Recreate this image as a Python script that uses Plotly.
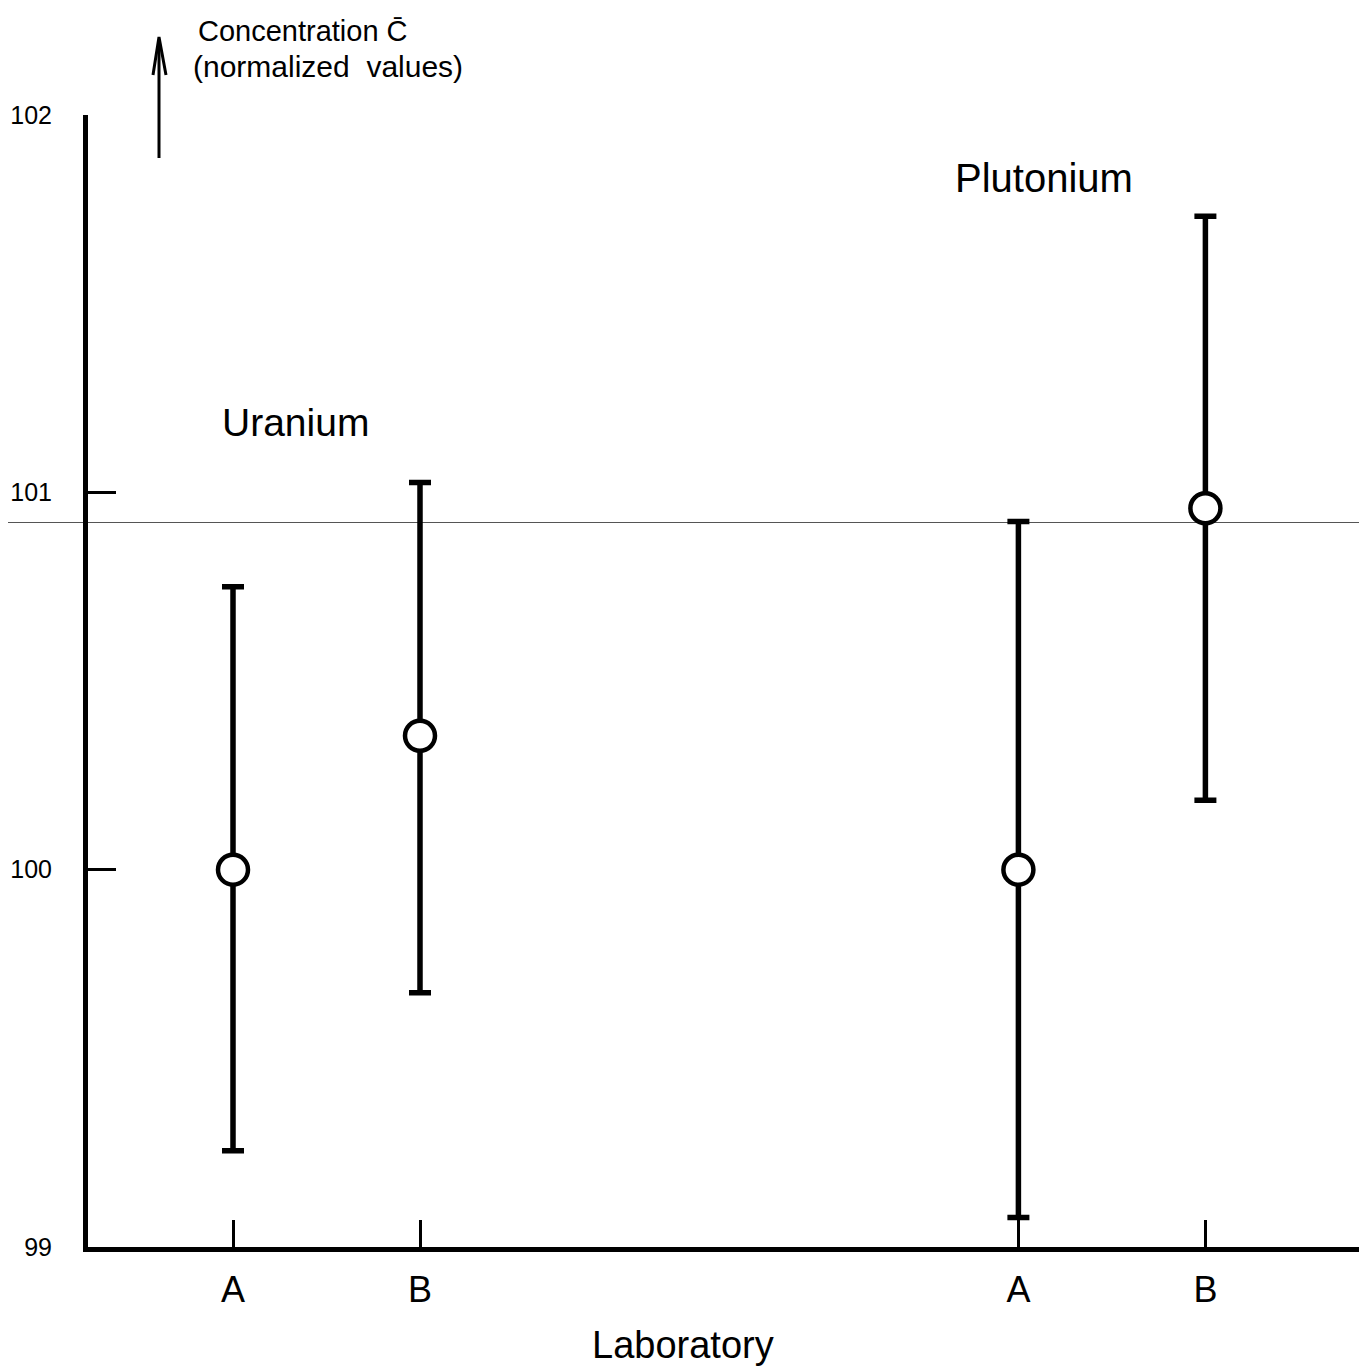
import numpy as np
import plotly.graph_objects as go

# ---- data ----
labs = ["A", "B", "A", "B"]
elements = ["Uranium", "Uranium", "Plutonium", "Plutonium"]
lab_pos = [1.0, 2.0, 5.2, 6.2]          # category positions along the laboratory axis
conc = [100.0, 100.355, 100.0, 100.958]
upper = [100.75, 101.026, 100.923, 101.732]
lower = [99.255, 99.674, 99.078, 100.184]
ref_level = 100.92
y_ticks = [99, 100, 101, 102]

# ---- layout geometry (page pixels; the page body has an 8px margin) ----
OFF = 8
PAGE_W, PAGE_H = 1367, 1371
FW, FH = PAGE_W - OFF, PAGE_H - OFF
L, R, T, B = 88, 1364, 115, 1247          # plot area in page pixels
ML, MT = L - OFF, T - OFF
MR = FW - (R - OFF)
MB = FH - (B - OFF)
x_range = [1 + (L - 233) / 187.0, 1 + (R - 233) / 187.0]
y_range = [99, 102]


def px_x(px):
    return (px - L) / (R - L)


def px_y(py):
    return (B - py) / (B - T)


FONT = "Liberation Sans, Arial, sans-serif"

conc_a = np.array(conc)
err_plus = np.array(upper) - conc_a
err_minus = conc_a - np.array(lower)

fig = go.Figure()
fig.add_trace(go.Scatter(
    x=lab_pos, y=conc, mode="markers",
    marker=dict(symbol="circle", size=30, color="white",
                line=dict(color="black", width=4.5)),
    error_y=dict(type="data", symmetric=False, array=err_plus,
                 arrayminus=err_minus, color="black", thickness=5.5, width=11),
    customdata=elements, text=labs,
    hovertemplate="%{customdata} %{text}: %{y}<extra></extra>",
    showlegend=False,
))

# thin reference line across the whole figure
fig.add_shape(type="line", xref="paper", yref="y",
              x0=px_x(OFF), x1=px_x(PAGE_W), y0=ref_level, y1=ref_level,
              line=dict(color="#555555", width=1.2), layer="below")

# upward arrow next to the axis title
fig.add_shape(type="line", xref="paper", yref="paper",
              x0=px_x(159), x1=px_x(159), y0=px_y(158), y1=px_y(40),
              line=dict(color="black", width=3))
fig.add_shape(type="path", xref="paper", yref="paper",
              path="M %.5f,%.5f L %.5f,%.5f L %.5f,%.5f" % (
                  px_x(153), px_y(75), px_x(159), px_y(37), px_x(166), px_y(75)),
              line=dict(color="black", width=3))

annos = [
    dict(text="Uranium", x=px_x(295), y=px_y(422), size=39),
    dict(text="Plutonium", x=px_x(1044), y=px_y(178), size=40),
    dict(text="Laboratory", x=px_x(683), y=px_y(1345), size=38),
]
for a in annos:
    fig.add_annotation(text=a["text"], x=a["x"], y=a["y"], xref="paper", yref="paper",
                       showarrow=False, xanchor="center", yanchor="middle",
                       font=dict(family=FONT, size=a["size"], color="black"))

fig.add_annotation(text="Concentration C\u0304", x=px_x(196), y=px_y(31),
                   xref="paper", yref="paper", showarrow=False,
                   xanchor="left", yanchor="middle",
                   font=dict(family=FONT, size=29, color="black"))
fig.add_annotation(text="(normalized\u00a0\u00a0values)", x=px_x(191), y=px_y(67),
                   xref="paper", yref="paper", showarrow=False,
                   xanchor="left", yanchor="middle",
                   font=dict(family=FONT, size=30, color="black"))

fig.update_layout(
    width=FW, height=FH,
    margin=dict(l=ML, r=MR, t=MT, b=MB, autoexpand=False),
    paper_bgcolor="white", plot_bgcolor="white",
    font=dict(family=FONT, color="black"),
    xaxis=dict(range=x_range, showgrid=False, zeroline=False, automargin=False,
               showline=True, linewidth=5, linecolor="black",
               tickmode="array", tickvals=lab_pos, ticktext=labs,
               ticks="inside", ticklen=27, tickwidth=3, tickcolor="black",
               ticklabelstandoff=7,
               tickfont=dict(family=FONT, size=36, color="black")),
    yaxis=dict(range=y_range, showgrid=False, zeroline=False, automargin=False,
               showline=True, linewidth=5, linecolor="black",
               tickmode="array", tickvals=y_ticks,
               ticktext=[str(t) for t in y_ticks],
               ticks="inside", ticklen=28, tickwidth=3, tickcolor="black",
               ticklabelstandoff=26,
               tickfont=dict(family=FONT, size=25, color="black")),
)

fig.write_html("out.html")
